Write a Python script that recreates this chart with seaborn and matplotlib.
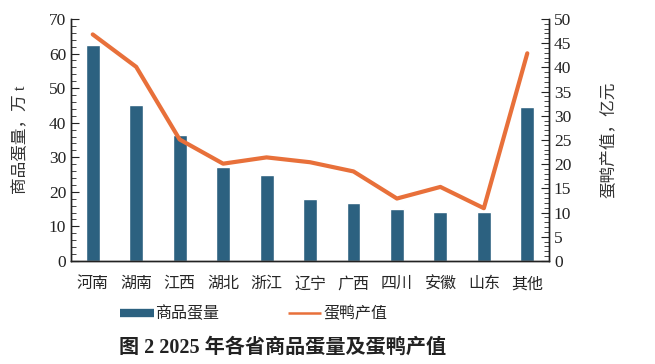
import seaborn as sns, matplotlib.pyplot as plt, numpy as np
from matplotlib.lines import Line2D
from matplotlib.ticker import MultipleLocator

provinces = ["河南", "湖南", "江西", "湖北", "浙江", "辽宁", "广西", "四川", "安徽", "山东", "其他"]
egg_volume = [62.5, 45.0, 36.3, 27.3, 25.0, 17.8, 16.8, 15.1, 14.2, 14.2, 44.4]   # 万 t
duck_value = [46.8, 40.1, 25.1, 20.1, 21.4, 20.4, 18.5, 12.9, 15.3, 10.9, 42.9]   # 亿元

bar_color = "#2c6180"
line_color = "#e8703a"

sns.set_style("white")
plt.rcParams['font.family'] = ['Liberation Serif', 'Noto Sans CJK SC']

fig = plt.figure(figsize=(6.55, 3.64), dpi=100)
ax = fig.add_axes([0.1084, 0.283, 0.7298, 0.665])

# bars on the left axis
sns.barplot(x=provinces, y=egg_volume, color=bar_color, width=0.32, saturation=1, ax=ax)
ax.set_ylim(0, 70)
ax.set_xlim(-0.5, len(provinces) - 0.5)
ax.yaxis.set_major_locator(MultipleLocator(10))
ax.yaxis.set_minor_locator(MultipleLocator(2))
ax.set_ylabel("商品蛋量，万 t", fontsize=12, color="#333333", labelpad=14)
ax.tick_params(axis='y', which='major', direction='in', length=6, width=0.8, labelsize=12.5, colors="#222222")
ax.tick_params(axis='y', which='minor', direction='in', length=3.5, width=0.6)
ax.tick_params(axis='x', length=0, labelsize=11.5, pad=11)

# line on the right axis
ax2 = ax.twinx()
sns.lineplot(x=np.arange(len(provinces)), y=duck_value, color=line_color, linewidth=3, ax=ax2)
ax2.set_ylim(0, 50)
ax2.yaxis.set_major_locator(MultipleLocator(5))
ax2.yaxis.set_minor_locator(MultipleLocator(1))
ax2.set_ylabel("蛋鸭产值，亿元", fontsize=12, color="#333333", labelpad=22)
ax2.tick_params(axis='y', which='major', direction='in', length=6, width=0.8, labelsize=12.5, colors="#222222")
ax2.tick_params(axis='y', which='minor', direction='in', length=3.5, width=0.6)

for a in (ax, ax2):
    a.spines['top'].set_visible(False)
    for s in ('left', 'right', 'bottom'):
        a.spines[s].set_color("#222222")
        a.spines[s].set_linewidth(1.0)

handles = [Line2D([], [], color=bar_color, linewidth=6, solid_capstyle='butt'),
           Line2D([], [], color=line_color, linewidth=1.8, solid_capstyle='butt')]
fig.legend(handles, ["商品蛋量", "蛋鸭产值"], loc='center', bbox_to_anchor=(0.387, 0.137),
           ncol=2, frameon=False, fontsize=11.5, handlelength=2.1, handletextpad=0.1,
           columnspacing=4.3)

fig.text(0.432, 0.045, "图 2 2025 年各省商品蛋量及蛋鸭产值", ha='center', va='center',
         fontsize=14.5, fontweight='bold', color="#222222")

plt.savefig('out.png', dpi=100)
